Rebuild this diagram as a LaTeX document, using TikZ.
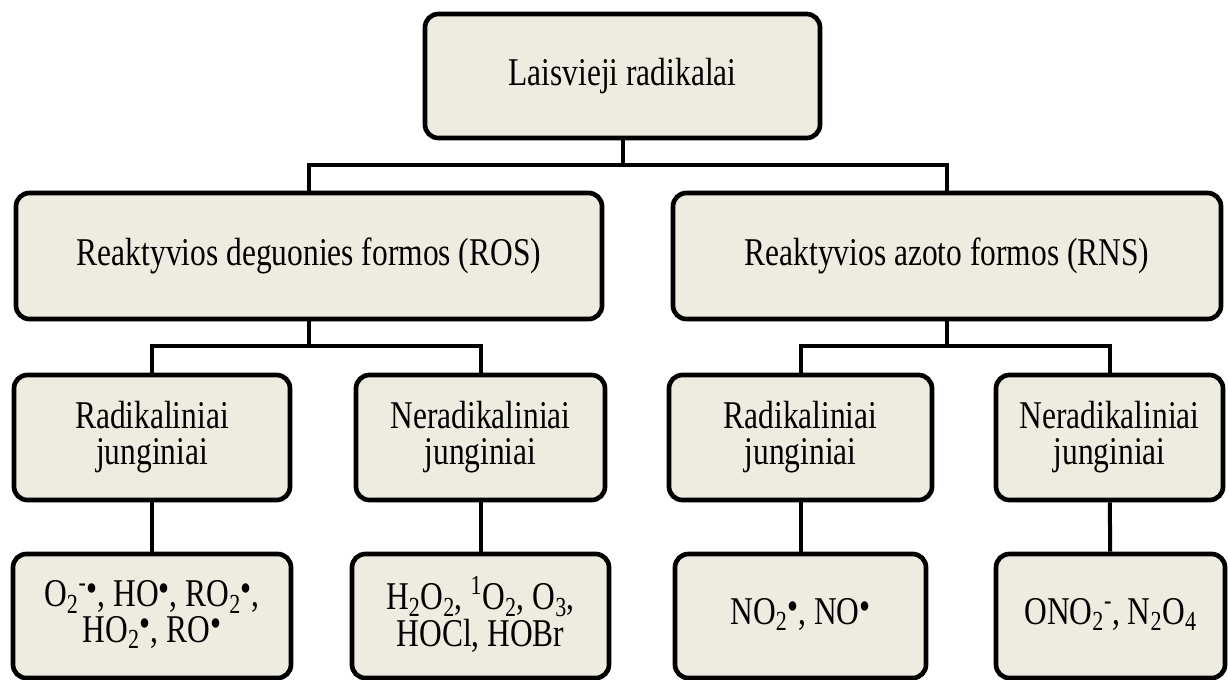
\documentclass[tikz,border=0pt]{standalone}
\usepackage{fontspec}
\setmainfont{Liberation Serif}
\usepackage{graphicx}
\usepackage{tikz}

% text of the boxes is set a little taller than wide
\newcommand{\tallbox}[1]{\scalebox{1}[1.25]{\begin{tabular}{@{}c@{}}#1\end{tabular}}}
% radical dot
\newcommand{\rdot}{\raisebox{3.1pt}{•}}

\begin{document}
\begin{tikzpicture}[x=0.75pt,y=0.75pt,yscale=-1,xscale=1,
  box/.style={draw,line width=3.5pt,rounded corners=10pt,fill={rgb, 255:red, 238; green, 236; blue, 225 },
    inner sep=0pt,align=center,font=\fontsize{23.6}{18.3}\selectfont},
  link/.style={line width=3pt}]
\useasboundingbox (0,0) rectangle (1228,679);

% Top
\node [box,minimum width=296.25pt,minimum height=93pt] (top) at (622.5,76) {\tallbox{Laisvieji radikalai}};

% Second level
\node [box,minimum width=439.5pt,minimum height=94.5pt] (ros) at (309,256) {\tallbox{Reaktyvios deguonies formos (ROS)}};
\node [box,minimum width=411pt,minimum height=94.5pt] (rns) at (947,256) {\tallbox{Reaktyvios azoto formos (RNS)}};

% Third level
\node [box,minimum width=207pt,minimum height=93.75pt] (rosrad) at (152,437.5) {\tallbox{Radikaliniai\\junginiai}};
\node [box,minimum width=186.75pt,minimum height=93.75pt] (rosnon) at (480.5,437.5) {\tallbox{Neradikaliniai\\junginiai}};
\node [box,minimum width=197.25pt,minimum height=93.75pt] (rnsrad) at (800.5,437.5) {\tallbox{Radikaliniai\\junginiai}};
\node [box,minimum width=170.25pt,minimum height=93.75pt] (rnsnon) at (1109.5,437.5) {\tallbox{Neradikaliniai\\junginiai}};

% Examples
\node [box,minimum width=208.5pt,minimum height=93pt] (rosradex) at (152,616)
  {\tallbox{O\textsubscript{2}\textsuperscript{-}\rdot, HO\rdot, RO\textsubscript{2}\rdot,\\HO\textsubscript{2}\rdot, RO\rdot}};
\node [box,minimum width=192.75pt,minimum height=93pt] (rosnonex) at (480.5,616)
  {\tallbox{H\textsubscript{2}O\textsubscript{2}, \textsuperscript{1}O\textsubscript{2}, O\textsubscript{3},\\HOCl, HOBr}};
\node [box,minimum width=188.25pt,minimum height=93pt] (rnsradex) at (800.5,616)
  {\tallbox{NO\textsubscript{2}\rdot, NO\rdot}};
\node [box,minimum width=171.75pt,minimum height=93pt] (rnsnonex) at (1110.5,616)
  {\tallbox{ONO\textsubscript{2}\textsuperscript{-}, N\textsubscript{2}O\textsubscript{4}}};

% Connectors
\draw [link] (top.south) -- ++(0,25) -| (ros.north);
\draw [link] (top.south) -- ++(0,25) -| (rns.north);
\draw [link] (ros.south) -- ++(0,25) -| (rosrad.north);
\draw [link] (ros.south) -- ++(0,25) -| (rosnon.north);
\draw [link] (rns.south) -- ++(0,25) -| (rnsrad.north);
\draw [link] (rns.south) -- ++(0,25) -| (rnsnon.north);
\draw [link] (rosrad) -- (rosradex);
\draw [link] (rosnon) -- (rosnonex);
\draw [link] (rnsrad) -- (rnsradex);
\draw [link] (rnsnon) -- (rnsnonex);

\end{tikzpicture}
\end{document}
